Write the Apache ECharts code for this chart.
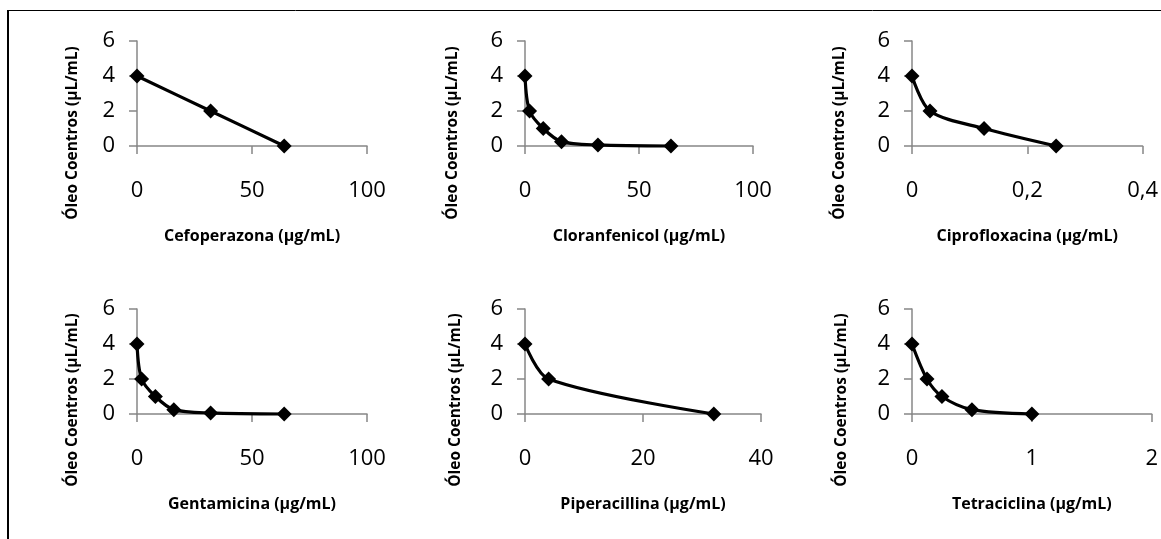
<!DOCTYPE html>
<html>
<head>
<meta charset="utf-8">
<script src="https://cdn.jsdelivr.net/npm/echarts@6/dist/echarts.min.js"></script>
<style>
html,body{margin:0;padding:0;background:#fff;}
#main{width:1161px;height:539px;}
</style>
</head>
<body>
<div id="main"></div>
<script>
// ---- data ----
const drugNames = ["Cefoperazona", "Cloranfenicol", "Ciprofloxacina", "Gentamicina", "Piperacillina", "Tetraciclina"];
const yTitle = "Óleo Coentros (µL/mL)";
const cefoX = [0, 32, 64];
const cefoY = [4, 2, 0];
const cloraX = [0, 2, 8, 16, 32, 64];
const cloraY = [4, 2, 1, 0.25, 0.06, 0];
const ciproX = [0, 0.03125, 0.125, 0.25];
const ciproY = [4, 2, 1, 0];
const gentaX = [0, 2, 8, 16, 32, 64];
const gentaY = [4, 2, 1, 0.25, 0.06, 0];
const pipeX = [0, 4, 32];
const pipeY = [4, 2, 0];
const tetraX = [0, 0.125, 0.25, 0.5, 1];
const tetraY = [4, 2, 1, 0.25, 0];
const xMax = [100, 100, 0.4, 100, 40, 2];
const xStep = [50, 50, 0.2, 50, 20, 1];
const yMax = 6, yStep = 2;

const seriesX = [cefoX, cloraX, ciproX, gentaX, pipeX, tetraX];
const seriesY = [cefoY, cloraY, ciproY, gentaY, pipeY, tetraY];

// ---- layout ----
const gridBoxes = [
  {left:137, top:41, width:230, height:105},
  {left:525, top:41, width:228, height:105},
  {left:912, top:41, width:235, height:105},
  {left:137, top:309, width:230, height:105},
  {left:525, top:309, width:236, height:105},
  {left:912, top:309, width:243, height:105}
];
const yTitlePos = [[73,133],[453,133],[840,133],[73,400],[456,400],[842,400]];

const axisColor = '#878787';
const fontFam = '"Open Sans", "Noto Sans", sans-serif';

const grids = [], xAxes = [], yAxes = [], series = [], graphics = [];
gridBoxes.forEach((g, i) => {
  grids.push(Object.assign({containLabel:false}, g));
  xAxes.push({
    type:'value', gridIndex:i, min:0, max:xMax[i], interval:xStep[i],
    axisLine:{show:true, onZero:false, lineStyle:{color:axisColor, width:1.5}},
    axisTick:{show:true, length:8, lineStyle:{color:axisColor, width:1.5}},
    splitLine:{show:false},
    axisLabel:{margin:34, color:'#000', fontSize:22, fontFamily:fontFam,
      formatter: v => String(+v.toFixed(4)).replace('.', ',')},
    name: drugNames[i] + ' (µg/mL)', nameLocation:'middle', nameGap:82,
    nameTextStyle:{fontSize:16, fontWeight:'bold', color:'#000', fontFamily:fontFam}
  });
  yAxes.push({
    type:'value', gridIndex:i, min:0, max:yMax, interval:yStep,
    axisLine:{show:true, lineStyle:{color:axisColor, width:1.5}},
    axisTick:{show:true, length:8, lineStyle:{color:axisColor, width:1.5}},
    splitLine:{show:false},
    axisLabel:{margin:22, color:'#000', fontSize:22, fontFamily:fontFam}
  });
  series.push({
    type:'line', xAxisIndex:i, yAxisIndex:i,
    data: seriesX[i].map((x, k) => [x, seriesY[i][k]]),
    smooth:0.3,
    symbol:'diamond', symbolSize:15,
    lineStyle:{color:'#000', width:3.2},
    itemStyle:{color:'#000'},
    clip:false
  });
  graphics.push({
    type:'text', x:yTitlePos[i][0], y:yTitlePos[i][1], rotation:Math.PI/2,
    style:{text:yTitle, fill:'#000', font:'bold 15.5px ' + fontFam, align:'center', verticalAlign:'middle'}
  });
});
// frame lines
graphics.push({type:'line', shape:{x1:8, y1:10, x2:8, y2:539}, style:{stroke:'#000', lineWidth:2}});
graphics.push({type:'line', shape:{x1:7, y1:10.5, x2:1161, y2:10.5}, style:{stroke:'#000', lineWidth:1}});

const chart = echarts.init(document.getElementById('main'));
chart.setOption({
  animation:false,
  backgroundColor:'#fff',
  grid:grids, xAxis:xAxes, yAxis:yAxes, series:series, graphic:graphics
});
</script>
</body>
</html>
